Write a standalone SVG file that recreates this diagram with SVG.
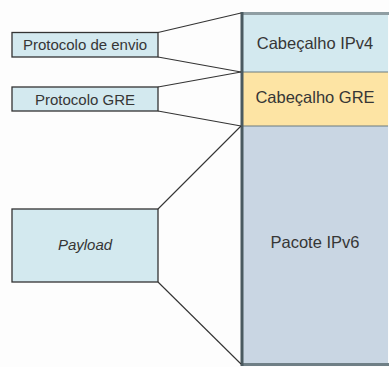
<svg xmlns="http://www.w3.org/2000/svg" width="389" height="367" viewBox="0 0 389 367">
  <style>
    .lbl { font-family: "Liberation Sans", Arial, sans-serif; fill: #363636; text-anchor: middle; }
    .big { font-size: 16.5px; }
    .small { font-size: 15px; }
    .side { fill: #d3e9ef; stroke: #333; stroke-width: 1.3; }
    .conn { stroke: #333; stroke-width: 1.1; fill: none; }
  </style>
  <rect width="389" height="367" fill="#fdfdfd"/>

  <!-- packet column -->
  <g id="cabecalho-ipv4">
    <rect x="241" y="13" width="147" height="59" fill="#d3e9ef"/>
    <text class="lbl big" x="315" y="48.5">Cabeçalho IPv4</text>
  </g>
  <g id="cabecalho-gre">
    <rect x="241" y="72" width="147" height="54" fill="#fde4a4"/>
    <line x1="241" y1="72" x2="388" y2="72" stroke="#6a7a80" stroke-width="1"/>
    <text class="lbl big" x="315" y="103">Cabeçalho GRE</text>
  </g>
  <g id="pacote-ipv6">
    <rect x="241" y="126" width="147" height="238" fill="#c9d6e3"/>
    <line x1="241" y1="126" x2="388" y2="126" stroke="#6a7a80" stroke-width="1"/>
    <text class="lbl big" x="315" y="248">Pacote IPv6</text>
  </g>
  <!-- column frame: grey top/bottom bars, dark left edge -->
  <rect x="241" y="12" width="148" height="3" fill="#8f9ea3"/>
  <rect x="241" y="363" width="148" height="3" fill="#6f7f86"/>
  <rect x="240.5" y="12" width="3" height="354" fill="#4a5a60"/>

  <!-- protocol boxes -->
  <g id="protocolo-envio">
    <rect class="side" x="12" y="32.5" width="146" height="24.5"/>
    <text class="lbl small" x="85" y="50">Protocolo de envio</text>
  </g>
  <g id="protocolo-gre">
    <rect class="side" x="12" y="87" width="146" height="24"/>
    <text class="lbl small" x="85" y="104.5">Protocolo GRE</text>
  </g>
  <g id="payload">
    <rect class="side" x="12" y="209" width="146" height="73"/>
    <text class="lbl small" x="85" y="250" font-style="italic">Payload</text>
  </g>

  <!-- connectors -->
  <g id="connectors">
    <line class="conn" x1="158" y1="32.5" x2="241" y2="13"/>
    <line class="conn" x1="158" y1="57" x2="241" y2="72"/>
    <line class="conn" x1="158" y1="87" x2="241" y2="72"/>
    <line class="conn" x1="158" y1="111" x2="241" y2="126"/>
    <line class="conn" x1="158" y1="209" x2="241" y2="126" stroke="#555"/>
    <line class="conn" x1="158" y1="282" x2="241" y2="364" stroke="#555"/>
  </g>
</svg>
